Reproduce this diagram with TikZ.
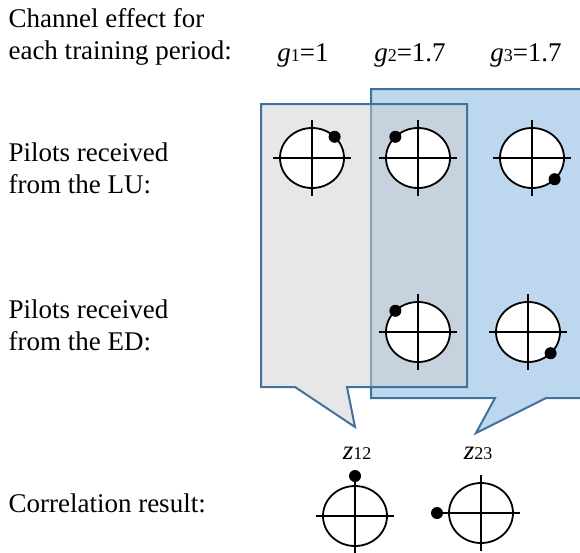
\documentclass[tikz,border=0pt]{standalone}
\usepackage{fontspec}
\setmainfont{Liberation Serif}
\usepackage{tikz}
\definecolor{calloutline}{HTML}{41719C}
\definecolor{calloutblue}{HTML}{BDD7EE}
\definecolor{calloutgray}{HTML}{D0D0D0}
\newcommand{\idx}[1]{{\fontsize{18}{18}\selectfont #1}}
% one received constellation: name, centre, polar offset of the pilot
\newcommand{\iqplot}[3]{%
  \coordinate (#1) at #2;
  \draw[iq ring] (#1) ellipse [x radius=32pt, y radius=30pt];
  \draw[iq axis] ([xshift=-39pt]#1) -- ([xshift=39pt]#1);
  \draw[iq axis] ([yshift=-38pt]#1) -- ([yshift=38pt]#1);
  \fill ([shift={(#3)}]#1) circle (6pt);
}

\begin{document}
\begin{tikzpicture}[x=1pt,y=-1pt,
    label text/.style={anchor=base west,align=left,font=\fontsize{27}{32}\selectfont},
    gain text/.style={anchor=base,font=\fontsize{27}{32}\selectfont},
    iq ring/.style={line width=1.8pt,fill=white},
    iq axis/.style={line width=1.8pt},
    callout/.style={line width=2pt,draw=calloutline,line join=miter}]
  \useasboundingbox (0,0) rectangle (580,552);
  \clip (0,0) rectangle (580,552);
  % the two training windows as callouts
  \draw[callout,fill=calloutblue] (371,89) -- (590,89) -- (590,398) -- (546,398)
    -- (476,433) -- (495,398) -- (371,398) -- cycle;
  \draw[callout,fill=calloutgray,fill opacity=0.5] (261,104) -- (467,104) -- (467,387)
    -- (347,387) -- (355,427) -- (295,387) -- (261,387) -- cycle;
  % row labels (base anchor sits on the last line)
  \node[label text] (chan) at (5,59) {Channel effect for\\each training period:};
  \node[label text] (lu) at (5,193) {Pilots received\\from the LU:};
  \node[label text] (ed) at (5,350) {Pilots received\\from the ED:};
  \node[label text] (corr) at (5,512) {Correlation result:};
  % channel gains
  \node[gain text] (g1) at (303,61) {\textit{g}\idx{1}=1};
  \node[gain text] (g2) at (410,61) {\textit{g}\idx{2}=1.7};
  \node[gain text] (g3) at (526,61) {\textit{g}\idx{3}=1.7};
  % pilots from the LU
  \iqplot{lu1}{(312,158)}{45:32pt and 30pt}
  \iqplot{lu2}{(418,158)}{135:32pt and 30pt}
  \iqplot{lu3}{(532,158)}{-45:32pt and 30pt}
  % pilots from the ED
  \iqplot{ed2}{(418,332)}{135:32pt and 30pt}
  \iqplot{ed3}{(528,332)}{-45:32pt and 30pt}
  % correlation outputs
  \node[gain text] (z12) at (357,459) {\textit{z}\idx{12}};
  \node[gain text] (z23) at (478,459) {\textit{z}\idx{23}};
  \iqplot{c12}{(355,516)}{90:40pt}
  \iqplot{c23}{(481,513)}{180:44pt}
\end{tikzpicture}
\end{document}
